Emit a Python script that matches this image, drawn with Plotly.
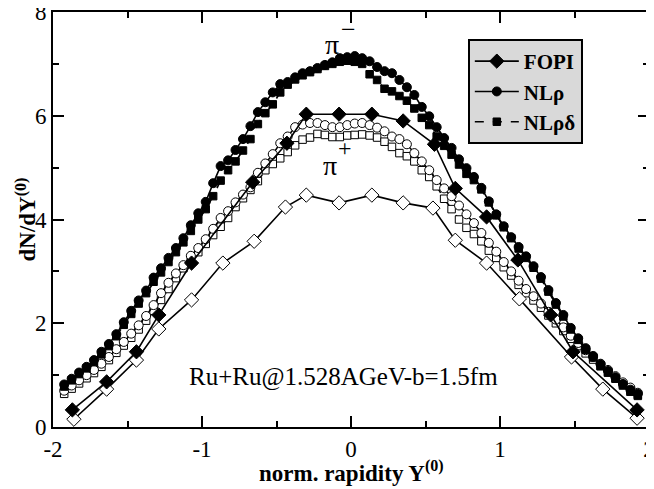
import plotly.graph_objects as go

# rapidity bin centres for the transport-model curves
y_model = [-1.925, -1.875, -1.825, -1.775, -1.725, -1.675, -1.625, -1.575, -1.525, -1.475,
           -1.425, -1.375, -1.325, -1.275, -1.225, -1.175, -1.125, -1.075, -1.025, -0.975,
           -0.925, -0.875, -0.825, -0.775, -0.725, -0.675, -0.625, -0.575, -0.525, -0.475,
           -0.425, -0.375, -0.325, -0.275, -0.225, -0.175, -0.125, -0.075, -0.025, 0.025,
           0.075, 0.125, 0.175, 0.225, 0.275, 0.325, 0.375, 0.425, 0.475, 0.525,
           0.575, 0.625, 0.675, 0.725, 0.775, 0.825, 0.875, 0.925, 0.975, 1.025,
           1.075, 1.125, 1.175, 1.225, 1.275, 1.325, 1.375, 1.425, 1.475, 1.525,
           1.575, 1.625, 1.675, 1.725, 1.775, 1.825, 1.875, 1.925]

# NL rho, pi-
nlr_pim = [0.82, 0.93, 1.05, 1.16, 1.29, 1.45, 1.60, 1.79, 2.02, 2.24,
           2.44, 2.63, 2.88, 3.06, 3.26, 3.45, 3.64, 3.89, 4.12, 4.34,
           4.70, 5.03, 5.14, 5.34, 5.55, 5.80, 6.07, 6.26, 6.45, 6.61,
           6.65, 6.74, 6.82, 6.86, 6.92, 6.98, 7.03, 7.11, 7.13, 7.15,
           7.11, 7.05, 6.94, 6.86, 6.82, 6.69, 6.55, 6.40, 6.17, 5.99,
           5.78, 5.57, 5.38, 5.16, 4.99, 4.82, 4.61, 4.35, 4.10, 3.87,
           3.66, 3.47, 3.29, 3.10, 2.89, 2.64, 2.39, 2.16, 1.91, 1.71,
           1.52, 1.37, 1.21, 1.08, 0.96, 0.83, 0.72, 0.64]
# NL rho delta, pi-
nlrd_pim = [0.78, 0.90, 1.02, 1.13, 1.25, 1.40, 1.56, 1.75, 1.97, 2.18,
            2.38, 2.58, 2.80, 2.98, 3.18, 3.37, 3.56, 3.78, 4.00, 4.20,
            4.45, 4.75, 4.95, 5.12, 5.33, 5.55, 5.84, 6.05, 6.22, 6.45,
            6.60, 6.70, 6.78, 6.84, 6.90, 6.96, 7.00, 7.04, 7.06, 7.04,
            7.00, 6.80, 6.69, 6.52, 6.47, 6.38, 6.29, 6.14, 5.96, 5.82,
            5.60, 5.42, 5.25, 5.06, 4.88, 4.76, 4.58, 4.33, 4.08, 3.85,
            3.64, 3.44, 3.26, 3.07, 2.86, 2.61, 2.36, 2.13, 1.88, 1.68,
            1.49, 1.34, 1.18, 1.05, 0.93, 0.80, 0.68, 0.60]
# NL rho, pi+
nlr_pip = [0.70, 0.80, 0.90, 1.00, 1.10, 1.22, 1.35, 1.50, 1.64, 1.80,
           1.96, 2.14, 2.35, 2.58, 2.78, 2.96, 3.12, 3.30, 3.45, 3.62,
           3.82, 4.03, 4.16, 4.33, 4.48, 4.62, 4.90, 5.08, 5.26, 5.47,
           5.60, 5.78, 5.83, 5.86, 5.86, 5.82, 5.78, 5.78, 5.82, 5.85,
           5.86, 5.82, 5.77, 5.70, 5.60, 5.55, 5.45, 5.28, 5.12, 4.95,
           4.76, 4.60, 4.45, 4.27, 4.10, 3.93, 3.74, 3.55, 3.38, 3.18,
           3.00, 2.82, 2.66, 2.52, 2.38, 2.22, 2.07, 1.92, 1.76, 1.62,
           1.48, 1.35, 1.22, 1.10, 0.98, 0.86, 0.76, 0.66]
# NL rho delta, pi+
nlrd_pip = [0.64, 0.74, 0.84, 0.94, 1.04, 1.16, 1.29, 1.43, 1.57, 1.72,
            1.88, 2.05, 2.24, 2.45, 2.66, 2.87, 3.06, 3.22, 3.37, 3.53,
            3.70, 3.86, 4.03, 4.24, 4.41, 4.57, 4.74, 4.95, 5.07, 5.18,
            5.30, 5.43, 5.54, 5.58, 5.65, 5.63, 5.59, 5.59, 5.62, 5.63,
            5.64, 5.62, 5.58, 5.50, 5.40, 5.28, 5.22, 5.12, 4.95, 4.82,
            4.64, 4.40, 4.20, 4.00, 3.84, 3.72, 3.58, 3.40, 3.26, 3.08,
            2.92, 2.74, 2.58, 2.44, 2.30, 2.15, 2.00, 1.85, 1.70, 1.56,
            1.42, 1.30, 1.17, 1.05, 0.94, 0.83, 0.72, 0.62]

# FOPI data
fopi_pim_x = [-1.87, -1.64, -1.44, -1.29, -1.07, -0.66, -0.43, -0.30, -0.08, 0.14,
              0.35, 0.56, 0.70, 0.91, 1.12, 1.34, 1.49, 1.92]
fopi_pim_y = [0.33, 0.87, 1.45, 2.16, 3.16, 4.72, 5.47, 6.03, 6.03, 6.03,
              5.90, 5.45, 4.60, 4.05, 3.22, 2.16, 1.45, 0.33]
fopi_pip_x = [-1.86, -1.64, -1.44, -1.29, -1.07, -0.86, -0.65, -0.44, -0.30, -0.08,
              0.14, 0.35, 0.55, 0.70, 0.91, 1.13, 1.48, 1.69, 1.92]
fopi_pip_y = [0.15, 0.73, 1.29, 1.89, 2.45, 3.16, 3.58, 4.24, 4.47, 4.32,
              4.47, 4.32, 4.22, 3.60, 3.16, 2.47, 1.35, 0.73, 0.17]

x_tickvals = [-2, -1, 0, 1, 2]
x_ticktext = ["-2", "-1", "0", "1", "2"]
y_tickvals = [0, 2, 4, 6, 8]
y_ticktext = ["0", "2", "4", "6", "8"]

SERIF = "Liberation Serif"
fig = go.Figure()

def add(x, y, symbol, size, filled, name, dash="solid", show=False, rank=1000):
    fig.add_trace(go.Scatter(
        x=x, y=y, mode="lines+markers", name=name, showlegend=show, legendrank=rank,
        line=dict(color="black", width=1.6, dash=dash),
        marker=dict(symbol=symbol, size=size,
                    color="black" if filled else "white",
                    line=dict(color="black", width=1)),
    ))

add(y_model, nlrd_pip, "square", 7.5, False, "NLρδ+", dash="dash")
add(y_model, nlr_pip, "circle", 9, False, "NLρ+")
add(y_model, nlrd_pim, "square", 7.5, True, "<b>NLρδ</b>", dash="dash", show=True, rank=3)
add(y_model, nlr_pim, "circle", 9, True, "<b>NLρ</b>", show=True, rank=2)
add(fopi_pip_x, fopi_pip_y, "diamond", 11, False, "FOPI+")
add(fopi_pim_x, fopi_pim_y, "diamond", 11, True, "<b>FOPI</b>", show=True, rank=1)

fig.add_annotation(x=-0.13, y=7.38, text="π", showarrow=False,
                   font=dict(family=SERIF, size=28, color="black"))
fig.add_annotation(x=-0.02, y=7.66, text="−", showarrow=False,
                   font=dict(family=SERIF, size=26, color="black"))
fig.add_annotation(x=-0.14, y=5.05, text="π", showarrow=False,
                   font=dict(family=SERIF, size=28, color="black"))
fig.add_annotation(x=-0.04, y=5.38, text="+", showarrow=False,
                   font=dict(family=SERIF, size=24, color="black"))
fig.add_annotation(x=-0.05, y=0.96, text="Ru+Ru@1.528AGeV-b=1.5fm", showarrow=False,
                   font=dict(family=SERIF, size=25, color="black"))

# axis titles
fig.add_annotation(xref="paper", yref="paper", x=0, y=0.5, xshift=-27,
                   xanchor="center", yanchor="middle",
                   text="<b>dN/dY<sup>(0)</sup></b>", textangle=-90, showarrow=False,
                   font=dict(family=SERIF, size=23, color="black"))
fig.add_annotation(xref="paper", yref="paper", x=0.5, y=0, yshift=-44,
                   xanchor="center", yanchor="middle",
                   text="<b>norm. rapidity Y<sup>(0)</sup></b>", showarrow=False,
                   font=dict(family=SERIF, size=23, color="black"))

axis_common = dict(showline=True, linecolor="black", linewidth=2, mirror="ticks",
                   ticks="inside", ticklen=11, tickwidth=1.5, tickcolor="black",
                   showgrid=False, zeroline=False, ticklabeloverflow="allow",
                   tickfont=dict(family=SERIF, size=23, color="black"))

fig.update_xaxes(range=[-2, 2], tickvals=x_tickvals, ticktext=x_ticktext,
                 minor=dict(dtick=0.5, ticks="inside", ticklen=6, tickwidth=1.5, tickcolor="black"),
                 **axis_common)
fig.update_yaxes(range=[0, 8], tickvals=y_tickvals, ticktext=y_ticktext,
                 minor=dict(dtick=1, ticks="inside", ticklen=6, tickwidth=1.5, tickcolor="black"),
                 **axis_common)

fig.update_layout(
    width=646, height=481,
    margin=dict(l=45, r=5, t=4, b=62, autoexpand=False),
    paper_bgcolor="white", plot_bgcolor="white",
    showlegend=True,
    legend=dict(x=0.696, y=0.935, xanchor="left", yanchor="top",
                bgcolor="#d9d9d9", bordercolor="black", borderwidth=2,
                font=dict(family=SERIF, size=21, color="black"),
                itemwidth=44, tracegroupgap=0),
)

fig.write_html("out.html")
